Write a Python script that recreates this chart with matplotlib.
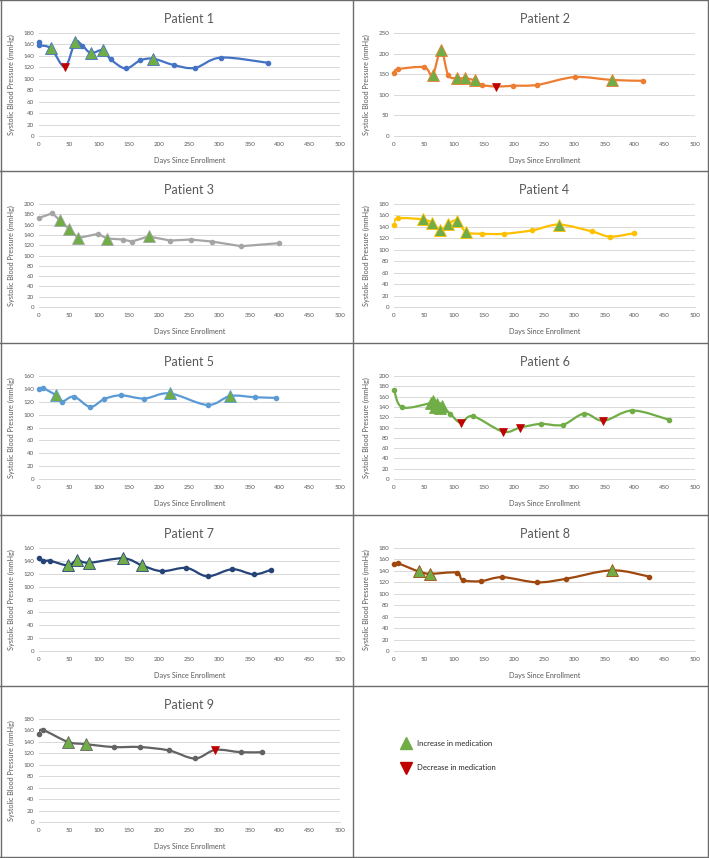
import numpy as np
import matplotlib.pyplot as plt
from matplotlib.path import Path
from matplotlib.patches import PathPatch
from matplotlib.lines import Line2D

plt.rcParams['font.family'] = ['Lato', 'DejaVu Sans']

# 各患者の測定日・収縮期血圧・投薬変更 (1=増量, -1=減量, 0=なし)
p1_days = [0, 0, 20, 43, 60, 72, 86, 106, 119, 144, 168, 190, 224, 259, 302, 380]
p1_sbp = [164, 159, 153, 121, 164, 158, 145, 150, 134, 118, 132, 135, 124, 119, 137, 128]
p1_med = [0, 0, 1, -1, 1, 0, 1, 1, 0, 0, 0, 1, 0, 0, 0, 0]

p2_days = [0, 6, 50, 64, 78, 90, 105, 118, 134, 146, 170, 197, 238, 300, 362, 413]
p2_sbp = [153, 162, 167, 147, 209, 148, 140, 140, 135, 124, 120, 122, 124, 143, 136, 134]
p2_med = [0, 0, 0, 1, 1, 0, 1, 1, 1, 0, -1, 0, 0, 0, 1, 0]

p3_days = [0, 22, 35, 50, 65, 98, 113, 140, 154, 182, 218, 252, 288, 336, 399]
p3_sbp = [173, 182, 168, 151, 134, 142, 133, 131, 127, 137, 129, 131, 127, 118, 124]
p3_med = [0, 0, 1, 1, 1, 0, 1, 0, 0, 1, 0, 0, 0, 0, 0]

p4_days = [0, 6, 48, 63, 77, 90, 104, 120, 146, 183, 230, 274, 329, 359, 399]
p4_sbp = [144, 155, 153, 147, 135, 145, 151, 131, 128, 128, 134, 144, 132, 123, 129]
p4_med = [0, 0, 1, 1, 1, 1, 1, 1, 0, 0, 0, 1, 0, 0, 0]

p5_days = [0, 7, 28, 38, 58, 85, 108, 136, 175, 217, 280, 318, 359, 394]
p5_sbp = [140, 141, 130, 120, 128, 112, 124, 130, 125, 133, 115, 129, 127, 126]
p5_med = [0, 0, 1, 0, 0, 0, 0, 0, 0, 1, 0, 1, 0, 0]

p6_days = [0, 14, 62, 65, 68, 72, 76, 80, 93, 111, 131, 181, 210, 244, 280, 316, 348, 396, 457]
p6_sbp = [173, 139, 148, 152, 140, 145, 138, 141, 127, 109, 122, 92, 100, 107, 105, 127, 113, 133, 115]
p6_med = [0, 0, 1, 1, 1, 1, 1, 1, 0, -1, 0, -1, -1, 0, 0, 0, -1, 0, 0]

p7_days = [0, 7, 19, 48, 63, 83, 140, 171, 204, 245, 280, 321, 357, 385]
p7_sbp = [144, 140, 140, 133, 141, 137, 144, 133, 124, 129, 116, 127, 119, 126]
p7_med = [0, 0, 0, 1, 1, 1, 1, 1, 0, 0, 0, 0, 0, 0]

p8_days = [0, 7, 41, 60, 104, 114, 144, 180, 237, 285, 362, 424]
p8_sbp = [152, 153, 139, 135, 137, 124, 122, 129, 120, 126, 141, 130]
p8_med = [0, 0, 1, 1, 0, 0, 0, 0, 0, 0, 1, 0]

p9_days = [0, 6, 48, 78, 124, 168, 216, 259, 293, 335, 371]
p9_sbp = [153, 161, 140, 136, 131, 131, 125, 111, 126, 122, 122]
p9_med = [0, 0, 1, 1, 0, 0, 0, 0, -1, 0, 0]

patients = [
    ('Patient 1', p1_days, p1_sbp, p1_med, '#4472C4', 180, 20, True),
    ('Patient 2', p2_days, p2_sbp, p2_med, '#ED7D31', 250, 50, True),
    ('Patient 3', p3_days, p3_sbp, p3_med, '#A5A5A5', 200, 20, False),
    ('Patient 4', p4_days, p4_sbp, p4_med, '#FFC000', 180, 20, True),
    ('Patient 5', p5_days, p5_sbp, p5_med, '#5B9BD5', 160, 20, True),
    ('Patient 6', p6_days, p6_sbp, p6_med, '#70AD47', 200, 20, True),
    ('Patient 7', p7_days, p7_sbp, p7_med, '#264478', 160, 20, True),
    ('Patient 8', p8_days, p8_sbp, p8_med, '#9E480E', 180, 20, True),
    ('Patient 9', p9_days, p9_sbp, p9_med, '#636363', 180, 20, True),
]

INC = '#70AD47'
DEC = '#C00000'
W, H = 709, 858
row_tops = [0, 171, 343, 515, 686]


def smooth_path(x, y):
    # Excel風のなめらかな線 (Catmull-Rom → Bezier)
    pts = np.column_stack([x, y]).astype(float)
    ext = np.vstack([pts[0], pts, pts[-1]])
    verts = [pts[0]]
    codes = [Path.MOVETO]
    for i in range(len(pts) - 1):
        p0, p1, p2, p3 = ext[i], ext[i + 1], ext[i + 2], ext[i + 3]
        verts += [p1 + (p2 - p0) / 6, p2 - (p3 - p1) / 6, p2]
        codes += [Path.CURVE4] * 3
    return Path(verts, codes)


fig = plt.figure(figsize=(W / 100, H / 100), dpi=100)

for k, (name, days, sbp, med, col, ymax, ystep, smooth) in enumerate(patients):
    r, c = k // 2, k % 2
    left = c * 354 + 39 + c
    top = row_tops[r] + 33
    bottom = row_tops[r] + 136
    ax = fig.add_axes([left / W, 1 - bottom / H, 301 / W, (bottom - top) / H])

    d = np.array(days)
    s = np.array(sbp)
    m = np.array(med)

    if smooth:
        ax.add_patch(PathPatch(smooth_path(d, s), fill=False, edgecolor=col,
                               lw=1.6, zorder=3, capstyle='round', joinstyle='round'))
    else:
        ax.plot(d, s, color=col, lw=1.6, zorder=3)
    ax.plot(d[m == 0], s[m == 0], 'o', color=col, ms=3, zorder=4, clip_on=False)
    ax.plot(d[m == 1], s[m == 1], '^', mfc=INC, mec=col, mew=0.6, ms=8,
            zorder=5, clip_on=False)
    ax.plot(d[m == -1], s[m == -1], 'v', mfc=DEC, mec=DEC, mew=0.5, ms=6,
            zorder=5, clip_on=False)

    ax.set_xlim(0, 500)
    ax.set_ylim(0, ymax)
    ax.set_xticks(range(0, 501, 50))
    ax.set_yticks(range(0, ymax + 1, ystep))
    ax.grid(axis='y', color='#D9D9D9', lw=0.7)
    ax.set_axisbelow(True)
    for sp in ['top', 'right', 'left']:
        ax.spines[sp].set_visible(False)
    ax.spines['bottom'].set_color('#D9D9D9')
    ax.spines['bottom'].set_linewidth(0.7)
    ax.tick_params(length=0, labelsize=4.5, labelcolor='#595959')
    ax.tick_params(axis='x', pad=4.5)
    ax.tick_params(axis='y', pad=3.5)

    ax.set_title(name, fontsize=9, color='#595959', pad=0, y=1 + 14 / 103,
                 va='center')
    ax.set_xlabel('Days Since Enrollment', fontsize=5.2, color='#595959')
    ax.xaxis.set_label_coords(0.5, -21 / 103)
    ax.set_ylabel('Systolic Blood Pressure (mmHg)', fontsize=5.2, color='#595959')
    ax.yaxis.set_label_coords(-24 / 301, 0.5)

# 枠線
lc = '#6b6b6b'
for y in row_tops + [857]:
    fig.add_artist(Line2D([0, 1], [1 - y / H, 1 - y / H], color=lc, lw=1.0))
for x in [0.5, 353, 708]:
    fig.add_artist(Line2D([x / W, x / W], [0, 1], color=lc, lw=1.0))

# 凡例
handles = [
    Line2D([], [], ls='none', marker='^', ms=8.5, mfc=INC, mec=INC, label='Increase in medication'),
    Line2D([], [], ls='none', marker='v', ms=8.5, mfc=DEC, mec=DEC, label='Decrease in medication'),
]
fig.legend(handles=handles, loc='center left', bbox_to_anchor=(402 / W, 1 - 755.5 / H),
           frameon=False, fontsize=5.5, handlelength=1.0, handletextpad=1.0,
           labelspacing=2.3, borderpad=0, borderaxespad=0, labelcolor='#262626')

fig.savefig('out.png', dpi=100)
